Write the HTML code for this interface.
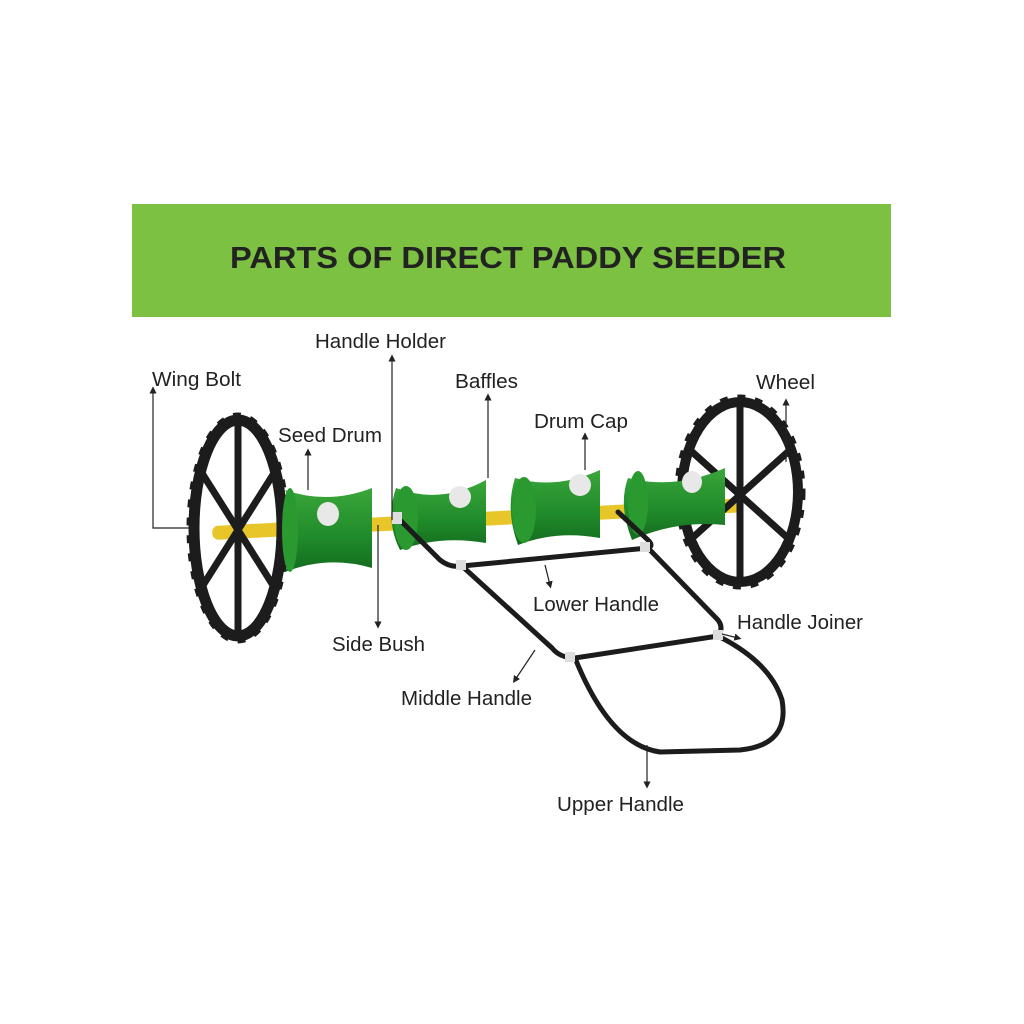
<!DOCTYPE html>
<html><head><style>
html,body{margin:0;padding:0;background:#fff}
svg{display:block}
text{font-family:"Liberation Sans",sans-serif;fill:#222}
</style></head><body>
<svg width="1024" height="1024" viewBox="0 0 1024 1024" xmlns="http://www.w3.org/2000/svg">
<defs>
<marker id="ah" viewBox="0 0 10 10" refX="5" refY="5" markerWidth="6" markerHeight="6" orient="auto-start-reverse"><path d="M0,0 L10,5 L0,10 z" fill="#222"/></marker>
<linearGradient id="dg" x1="0" y1="0" x2="0" y2="1"><stop offset="0" stop-color="#3aa63a"/><stop offset="0.6" stop-color="#1f8a2a"/><stop offset="1" stop-color="#146b1e"/></linearGradient>
</defs>
<rect x="132" y="204" width="759" height="113" fill="#7cc142"/>
<text x="508" y="268" font-size="31" font-weight="bold" text-anchor="middle" fill="#111" textLength="556" lengthAdjust="spacingAndGlyphs">PARTS OF DIRECT PADDY SEEDER</text>

<!-- axle -->
<rect x="212" y="512" width="530" height="14" rx="6" fill="#e8c62a" transform="rotate(-3 480 520)"/>

<!-- left wheel -->
<g fill="none" stroke="#1c1c1c">
<ellipse cx="238" cy="528" rx="44" ry="108" stroke-width="11"/>
<ellipse cx="238" cy="528" rx="50" ry="114" stroke-width="3" stroke-dasharray="8 10"/>
<path d="M238 422 L238 634 M200 470 L276 590 M200 590 L276 470" stroke-width="7"/>
</g>
<!-- right wheel -->
<g fill="none" stroke="#1c1c1c">
<ellipse cx="740" cy="492" rx="58" ry="90" stroke-width="10"/>
<ellipse cx="740" cy="492" rx="64" ry="96" stroke-width="3" stroke-dasharray="8 10"/>
<path d="M740 402 L740 582 M690 450 L790 540 M690 540 L790 450" stroke-width="7"/>
</g>

<!-- drums -->
<g>
<path d="M285 490 Q328 505 372 488 L372 568 Q328 555 285 572 Q305 530 285 490z" fill="url(#dg)"/>
<ellipse cx="290" cy="530" rx="8" ry="42" fill="#2a9a30"/>
<ellipse cx="328" cy="514" rx="11" ry="12" fill="#e8e8e8"/>
<path d="M396 488 Q440 505 486 480 L486 543 Q440 535 400 550 Q385 520 396 488z" fill="url(#dg)"/>
<ellipse cx="406" cy="518" rx="12" ry="32" fill="#2a9a30"/>
<ellipse cx="460" cy="497" rx="11" ry="11" fill="#e8e8e8"/>
<path d="M515 478 Q556 490 600 470 L600 538 Q556 530 518 545 Q505 510 515 478z" fill="url(#dg)"/>
<ellipse cx="524" cy="510" rx="12" ry="33" fill="#2a9a30"/>
<ellipse cx="580" cy="485" rx="11" ry="11" fill="#e8e8e8"/>
<path d="M628 478 Q676 490 725 468 L725 525 Q676 520 632 540 Q618 505 628 478z" fill="url(#dg)"/>
<ellipse cx="638" cy="503" rx="10" ry="32" fill="#2a9a30"/>
<ellipse cx="692" cy="482" rx="10" ry="11" fill="#e8e8e8"/>
</g>

<!-- handle -->
<g fill="none" stroke="#1c1c1c" stroke-width="5" stroke-linecap="round">
<path d="M400 520 L440 560 Q450 568 462 566 L648 548"/>
<path d="M462 566 L552 648 Q560 658 575 658 L718 636"/>
<path d="M618 512 L648 540 Q654 546 648 548 L718 620 Q724 628 718 636"/>
<path d="M575 658 Q610 745 660 752 L740 750 Q790 745 782 700 Q770 662 718 636"/>
</g>
<g fill="#ddd"><rect x="456" y="560" width="10" height="10"/><rect x="640" y="542" width="10" height="10"/><rect x="565" y="652" width="10" height="10"/><rect x="713" y="630" width="10" height="10"/><rect x="392" y="512" width="10" height="12"/></g>

<!-- leaders -->
<g stroke="#222" stroke-width="1.2" fill="none" marker-end="url(#ah)">
<path d="M193 528 L153 528 L153 390"/>
<path d="M392 520 L392 358"/>
<path d="M308 490 L308 452"/>
<path d="M488 478 L488 397"/>
<path d="M585 470 L585 436"/>
<path d="M786 462 L786 402"/>
<path d="M378 525 L378 625"/>
<path d="M545 565 L550 585"/>
<path d="M722 634 L738 638"/>
<path d="M535 650 L515 680"/>
<path d="M647 745 L647 785"/>
</g>

<g font-size="20">
<text x="152" y="386" textLength="89" lengthAdjust="spacingAndGlyphs">Wing Bolt</text>
<text x="315" y="348" textLength="131" lengthAdjust="spacingAndGlyphs">Handle Holder</text>
<text x="278" y="442" textLength="104" lengthAdjust="spacingAndGlyphs">Seed Drum</text>
<text x="455" y="388" textLength="63" lengthAdjust="spacingAndGlyphs">Baffles</text>
<text x="534" y="428" textLength="94" lengthAdjust="spacingAndGlyphs">Drum Cap</text>
<text x="756" y="389" textLength="59" lengthAdjust="spacingAndGlyphs">Wheel</text>
<text x="332" y="651" textLength="93" lengthAdjust="spacingAndGlyphs">Side Bush</text>
<text x="533" y="611" textLength="126" lengthAdjust="spacingAndGlyphs">Lower Handle</text>
<text x="737" y="629" textLength="126" lengthAdjust="spacingAndGlyphs">Handle Joiner</text>
<text x="401" y="705" textLength="131" lengthAdjust="spacingAndGlyphs">Middle Handle</text>
<text x="557" y="811" textLength="127" lengthAdjust="spacingAndGlyphs">Upper Handle</text>
</g>
</svg>
</body></html>
